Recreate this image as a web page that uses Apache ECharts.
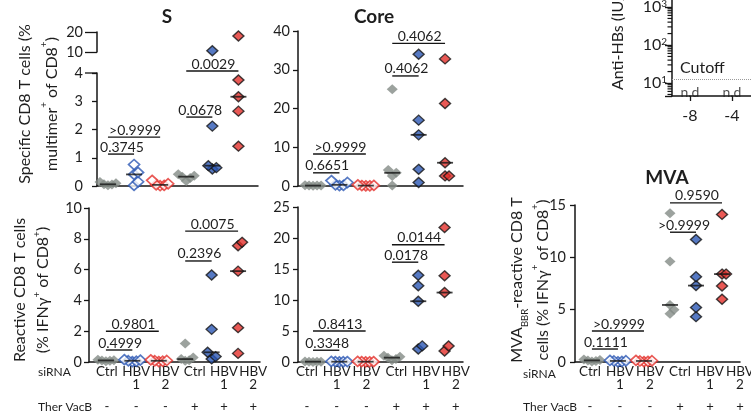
<!DOCTYPE html>
<html>
<head>
<meta charset="utf-8">
<script src="https://cdn.jsdelivr.net/npm/echarts@6/dist/echarts.min.js"></script>
<style>
html, body { margin: 0; padding: 0; background: #fff; }
#chart { width: 751px; height: 416px; }
</style>
</head>
<body>
<div id="chart"></div>
<script>
// groups (siRNA / therapeutic vaccine)
const groupLabels = ['Ctrl', 'HBV\n1', 'HBV\n2', 'Ctrl', 'HBV\n1', 'HBV\n2'];
const therVacB = ['-', '-', '-', '+', '+', '+'];

// specific CD8 T cells, % multimer+ of CD8+
const sMultimer = [
  [0.03, 0.05, 0.06, 0.1, 0.14],
  [0.02, 0.15, 0.41, 0.48, 0.76],
  [0.01, 0.02, 0.04, 0.08, 0.2],
  [0.18, 0.28, 0.33, 0.36, 0.42],
  [0.6, 0.65, 0.72, 2.12, 10.6],
  [1.41, 2.65, 3.16, 3.75, 18]
];
const coreMultimer = [
  [0.05, 0.1, 0.1, 0.15, 0.2],
  [0.1, 0.15, 0.3, 0.9, 1.4],
  [0.02, 0.05, 0.1, 0.15, 0.3],
  [0.1, 2.6, 3.4, 4.1, 25],
  [0.9, 4.3, 13.2, 17.0, 34],
  [2.6, 2.6, 6.0, 21.3, 32.8]
];
// reactive CD8 T cells, % IFNg+ of CD8+
const sIfng = [
  [0.05, 0.08, 0.1, 0.12, 0.15],
  [0.02, 0.05, 0.08, 0.12, 0.15],
  [0.03, 0.05, 0.08, 0.1, 0.14],
  [0.08, 0.12, 0.19, 0.3, 1.2],
  [0.2, 0.35, 0.63, 2.12, 5.65],
  [0.56, 2.23, 5.9, 7.55, 7.77]
];
const coreIfng = [
  [0.02, 0.04, 0.05, 0.06, 0.1],
  [0.02, 0.04, 0.05, 0.07, 0.1],
  [0.02, 0.03, 0.05, 0.06, 0.09],
  [0.3, 0.5, 0.7, 0.85, 1.0],
  [2.1, 2.6, 9.8, 12.3, 14.0],
  [1.77, 2.58, 11.2, 13.9, 21.7]
];
const mvaIfng = [
  [0.05, 0.1, 0.15, 0.2, 0.25],
  [0.02, 0.05, 0.1, 0.12, 0.15],
  [0.03, 0.06, 0.1, 0.12, 0.16],
  [4.6, 5.0, 5.45, 9.6, 14.2],
  [4.33, 5.2, 7.3, 8.15, 11.7],
  [6.0, 7.26, 8.4, 8.4, 14.1]
];

// p values: Ctrl vs HBV1, Ctrl vs HBV2 (without, then with Ther VacB)
const comparisons = [[0, 1], [0, 2], [3, 4], [3, 5]];
const sMultimerP = ['0.3745', '>0.9999', '0.0678', '0.0029'];
const coreMultimerP = ['0.6651', '>0.9999', '0.4062', '0.4062'];
const sIfngP = ['0.4999', '0.9801', '0.2396', '0.0075'];
const coreIfngP = ['0.3348', '0.8413', '0.0178', '0.0144'];
const mvaIfngP = ['0.1111', '>0.9999', '>0.9999', '0.9590'];

// anti-HBs panel, cut by the figure edge
const antiHbsWeeks = [-8, -4];
const antiHbsCutoff = 12.7;

const GRAY = '#838b86', BLUE = '#2c58b4', RED = '#e3302b', INK = '#151515';
const groupStyle = [
  { color: GRAY, borderWidth: 0 },
  { color: '#fff', borderColor: BLUE, borderWidth: 1.7 },
  { color: '#fff', borderColor: RED, borderWidth: 1.7 },
  { color: GRAY, borderWidth: 0 },
  { color: BLUE, borderColor: INK, borderWidth: 1.4 },
  { color: RED, borderColor: INK, borderWidth: 1.4 }
];
const lineStyle = { color: INK, width: 1.5 };

const panels = [
  { data: sMultimer, p: sMultimerP, levels: [1.13, 1.73, 2.44, 4.07], grid: { left: 97, top: 73, width: 161, height: 113 },
    x: [-0.42, 5.75], y: [0, 4, 1], margin: 14,
    upper: { grid: { left: 97, top: 32, width: 161, height: 20 }, y: [10, 20, 10] } },
  { data: coreMultimer, p: coreMultimerP, levels: [3.4, 8.25, 28.4, 36.8], grid: { left: 298, top: 31, width: 165, height: 155 },
    x: [-0.57, 5.68], y: [0, 40, 10], margin: 8 },
  { data: sIfng, p: sIfngP, levels: [0.78, 2.0, 6.56, 8.5], grid: { left: 89, top: 208, width: 171, height: 154 },
    x: [-0.64, 5.83], y: [0, 10, 2], margin: 7, labels: [-0.61, 5.23] },
  { data: coreIfng, p: coreIfngP, levels: [1.9, 5.0, 16.1, 18.9], grid: { left: 298, top: 207, width: 165, height: 155 },
    x: [-0.57, 5.70], y: [0, 25, 5], margin: 8, labels: [-0.30, 5.24] },
  { data: mvaIfng, p: mvaIfngP, levels: [1.24, 2.96, 12.4, 15.2], grid: { left: 575, top: 205, width: 165, height: 157 },
    x: [-0.65, 5.69], y: [0, 15, 5], margin: 9, labels: [-0.5, 5.0] }
];

const option = {
  animation: false,
  textStyle: { fontFamily: 'Lato' },
  grid: [], xAxis: [], yAxis: [], series: [], graphic: []
};

function addGrid(rect) {
  option.grid.push(Object.assign({ outerBoundsMode: 'none', containLabel: false }, rect));
  return option.grid.length - 1;
}
function addX(cfg) {
  option.xAxis.push(Object.assign({
    type: 'value', position: 'bottom', splitLine: { show: false }, axisTick: { show: false },
    axisLabel: { show: false }, axisLine: { show: false, onZero: false }
  }, cfg));
  return option.xAxis.length - 1;
}
function addY(cfg) {
  option.yAxis.push(Object.assign({
    type: 'value', position: 'left', splitLine: { show: false },
    axisLine: { show: true, onZero: false, lineStyle: lineStyle },
    axisTick: { show: true, length: 5, lineStyle: { color: INK, width: 1.3 } },
    axisLabel: { color: '#1e1e1e', fontSize: 14.5, fontFamily: 'Lato', margin: 8 }
  }, cfg));
  return option.yAxis.length - 1;
}
// extra tick marks on the left edge of a grid; height comes from the y axis scale
function addTickMarks(xAxisIndex, yAxisIndex, xInside, values, length, width) {
  option.series.push({
    type: 'custom', xAxisIndex: xAxisIndex, yAxisIndex: yAxisIndex, clip: false, silent: true, z: 6,
    encode: { x: 0, y: 1 },
    data: values.map(v => [xInside, v]),
    renderItem: (params, api) => {
      const p = api.coord([api.value(0), api.value(1)]);
      const x0 = params.coordSys.x;
      return { type: 'line', shape: { x1: x0 - length, y1: p[1], x2: x0, y2: p[1] }, style: { stroke: INK, lineWidth: width } };
    }
  });
}
function median(arr) {
  const s = arr.slice().sort((a, b) => a - b);
  const m = s.length >> 1;
  return s.length % 2 ? s[m] : (s[m - 1] + s[m]) / 2;
}
// spread overlapping points sideways
function dodge(values, thr, step) {
  const idx = values.map((v, i) => i).sort((a, b) => values[a] - values[b]);
  const slots = [];
  const order = [0, 1, -1, 2, -2, 3, -3];
  idx.forEach((i, k) => {
    for (const s of order) {
      const clash = idx.slice(0, k).some(j => slots[j] === s && Math.abs(values[j] - values[i]) < thr);
      if (!clash) { slots[i] = s; break; }
    }
  });
  return slots.map(s => s * step);
}
function groupLabel(v) {
  const i = Math.round(v);
  const parts = groupLabels[i].split('\n');
  return '{a|' + parts[0] + '}\n{a|' + (parts[1] || ' ') + '}\n{b|' + therVacB[i] + '}';
}

panels.forEach(def => {
  const g = addGrid(def.grid);
  const xi = addX({ gridIndex: g, min: def.x[0], max: def.x[1], axisLine: { show: true, onZero: false, lineStyle: lineStyle } });
  const yi = addY({ gridIndex: g, min: def.y[0], max: def.y[1], interval: def.y[2],
    axisLabel: { color: '#1e1e1e', fontSize: 14.5, fontFamily: 'Lato', margin: def.margin } });
  let xu, yu;
  if (def.upper) {
    const gu = addGrid(def.upper.grid);
    xu = addX({ gridIndex: gu, min: def.x[0], max: def.x[1] });
    yu = addY({ gridIndex: gu, min: def.upper.y[0], max: def.upper.y[1], interval: def.upper.y[2],
      axisTick: { show: true, length: 12, lineStyle: { color: INK, width: 1.3 } },
      axisLabel: { color: '#1e1e1e', fontSize: 14.5, fontFamily: 'Lato', margin: def.margin } });
    // longer tick where the axis breaks
    addTickMarks(xi, yi, 0, [def.y[1]], 12, 1.3);
  }
  if (def.labels) {
    addX({ gridIndex: g, min: def.labels[0], max: def.labels[1],
      axisLabel: { show: true, customValues: [0, 1, 2, 3, 4, 5], margin: 3, formatter: groupLabel, color: '#1e1e1e',
        rich: {
          a: { fontSize: 13.5, fontFamily: 'Lato', lineHeight: 13, color: '#1e1e1e' },
          b: { fontSize: 13, fontFamily: 'Lato', lineHeight: 32, color: '#1e1e1e' }
        } } });
  }
  const pxY = def.grid.height / (def.y[1] - def.y[0]);
  const pxX = def.grid.width / (def.x[1] - def.x[0]);
  def.data.forEach((vals, gi) => {
    const offs = dodge(vals, 8 / pxY, 4 / pxX);
    const lower = [], upper = [];
    vals.forEach((v, k) => {
      const pt = [gi + offs[k], v];
      if (def.upper && v > def.y[1]) upper.push(pt); else lower.push(pt);
    });
    const base = { type: 'scatter', symbol: 'diamond', symbolSize: [11, 10], silent: true, itemStyle: groupStyle[gi], z: 3 };
    option.series.push(Object.assign({ xAxisIndex: xi, yAxisIndex: yi, data: lower }, base));
    if (upper.length) option.series.push(Object.assign({ xAxisIndex: xu, yAxisIndex: yu, data: upper }, base));
  });
  option.series.push({
    type: 'scatter', xAxisIndex: xi, yAxisIndex: yi, silent: true, z: 4,
    data: def.data.map((v, gi) => [gi, median(v)]),
    symbol: 'rect', symbolSize: [16, 1.8], itemStyle: { color: INK }
  });
  const texts = def.p;
  option.series.push({
    type: 'custom', xAxisIndex: xi, yAxisIndex: yi, clip: false, silent: true, z: 5,
    encode: { x: [0, 1], y: 2 },
    data: comparisons.map((c, k) => [c[0], c[1], def.levels[k]]),
    renderItem: (params, api) => {
      const a = api.coord([api.value(0), api.value(2)]);
      const b = api.coord([api.value(1), api.value(2)]);
      return {
        type: 'group', children: [
          { type: 'line', shape: { x1: a[0], y1: a[1], x2: b[0], y2: b[1] }, style: { stroke: INK, lineWidth: 1.4 } },
          { type: 'text', x: (a[0] + b[0]) / 2 + 1, y: a[1] - 7,
            style: { text: texts[params.dataIndex], fill: '#1e1e1e', font: '14px Lato', textAlign: 'center', textVerticalAlign: 'middle' } }
        ]
      };
    }
  });
});

// anti-HBs panel (only its left part is inside the figure)
const ga = addGrid({ left: 672, top: -40, width: 200, height: 136 });
const xa = addX({ gridIndex: ga, min: -9.71, max: 9.33,
  axisLine: { show: true, onZero: false, lineStyle: lineStyle },
  axisTick: { show: true, length: 5, customValues: [-8, -4, 0, 4, 8], lineStyle: { color: INK, width: 1.3 } },
  axisLabel: { show: true, customValues: antiHbsWeeks, fontSize: 16, fontFamily: 'Lato', color: '#1e1e1e', margin: 12 } });
const logMin = 4.55, logMax = 17260;
const ya = addY({ gridIndex: ga, type: 'log', logBase: 10, min: logMin, max: logMax,
  axisTick: { show: true, length: 7, lineStyle: { color: INK, width: 1.4 } },
  axisLabel: { color: '#1e1e1e', fontSize: 16, fontFamily: 'Lato', margin: 5,
    formatter: v => {
      const k = Math.log10(v);
      if (Math.abs(k - Math.round(k)) > 1e-6) return '';
      return '10{s|' + Math.round(k) + '}';
    },
    rich: { s: { fontSize: 10, fontFamily: 'Lato', lineHeight: 12, verticalAlign: 'top', color: '#1e1e1e' } } } });
// minor log ticks 2..9 of each decade
const minorTicks = [];
for (let k = 0; k < 5; k++) {
  for (let m = 2; m < 10; m++) {
    const v = m * Math.pow(10, k);
    if (v > logMin && v < logMax) minorTicks.push(v);
  }
}
addTickMarks(xa, ya, antiHbsWeeks[0], minorTicks, 4.5, 1.2);
option.series.push({
  type: 'scatter', xAxisIndex: xa, yAxisIndex: ya, silent: true,
  data: antiHbsWeeks.map(w => [w, logMin]),
  symbolSize: 1, itemStyle: { color: 'rgba(0,0,0,0)' },
  label: { show: true, formatter: 'n.d', position: 'top', distance: -4, fontSize: 14, fontFamily: 'Lato', color: '#1e1e1e' },
  markLine: {
    silent: true, symbol: 'none',
    lineStyle: { type: 'dotted', color: '#9a9a9a', width: 1 },
    label: { show: true, formatter: 'Cutoff', position: 'insideStartTop', distance: [8, 3], fontSize: 16, fontFamily: 'Lato', color: '#1e1e1e' },
    data: [{ yAxis: antiHbsCutoff }]
  }
});

// texts
function txt(x, y, text, style, extra) {
  return Object.assign({ type: 'text', x: x, y: y, silent: true }, extra || {}, {
    style: Object.assign({ text: text, fill: '#1e1e1e', fontSize: 14, fontFamily: 'Lato', textAlign: 'center', textVerticalAlign: 'middle' }, style)
  });
}
function titleRich(lh) {
  return {
    n: { fontSize: 16, fontFamily: 'Lato', lineHeight: lh, fill: '#1e1e1e' },
    s: { fontSize: 10, fontFamily: 'Lato', lineHeight: 16, verticalAlign: 'top', fill: '#1e1e1e' },
    b: { fontSize: 9.5, fontFamily: 'Lato', lineHeight: 14, verticalAlign: 'bottom', fill: '#1e1e1e' }
  };
}
const rot = { rotation: Math.PI / 2 };
option.graphic = [
  txt(167, 17, 'S', { fontSize: 19, fontWeight: 'bold' }),
  txt(374, 17, 'Core', { fontSize: 19, fontWeight: 'bold' }),
  txt(667, 178, 'MVA', { fontSize: 19, fontWeight: 'bold' }),
  txt(38, 372, 'siRNA', { fontSize: 12, textAlign: 'left' }),
  txt(38, 407, 'Ther VacB', { fontSize: 12, textAlign: 'left' }),
  txt(523, 374, 'siRNA', { fontSize: 12, textAlign: 'left' }),
  txt(523, 407, 'Ther VacB', { fontSize: 12, textAlign: 'left' }),
  txt(38.5, 104, '{n|Specific CD8 T cells (%}\n{n|multimer}{s|+}{n| of CD8}{s|+}{n|)}', { rich: titleRich(27) }, rot),
  txt(31.5, 290, '{n|Reactive CD8 T cells}\n{n|(% IFNγ}{s|+}{n| of CD8}{s|+}{n|)}', { rich: titleRich(23) }, rot),
  txt(530, 280, '{n|MVA}{b|BBR}{n|-reactive CD8 T}\n{n|cells (% IFNγ}{s|+}{n| of CD8}{s|+}{n|)}', { rich: titleRich(26) }, rot),
  txt(618, 90, 'Anti-HBs (IU/mL)', { fontSize: 16, textAlign: 'left' }, rot)
];

const chart = echarts.init(document.getElementById('chart'));
chart.setOption(option);
</script>
</body>
</html>
